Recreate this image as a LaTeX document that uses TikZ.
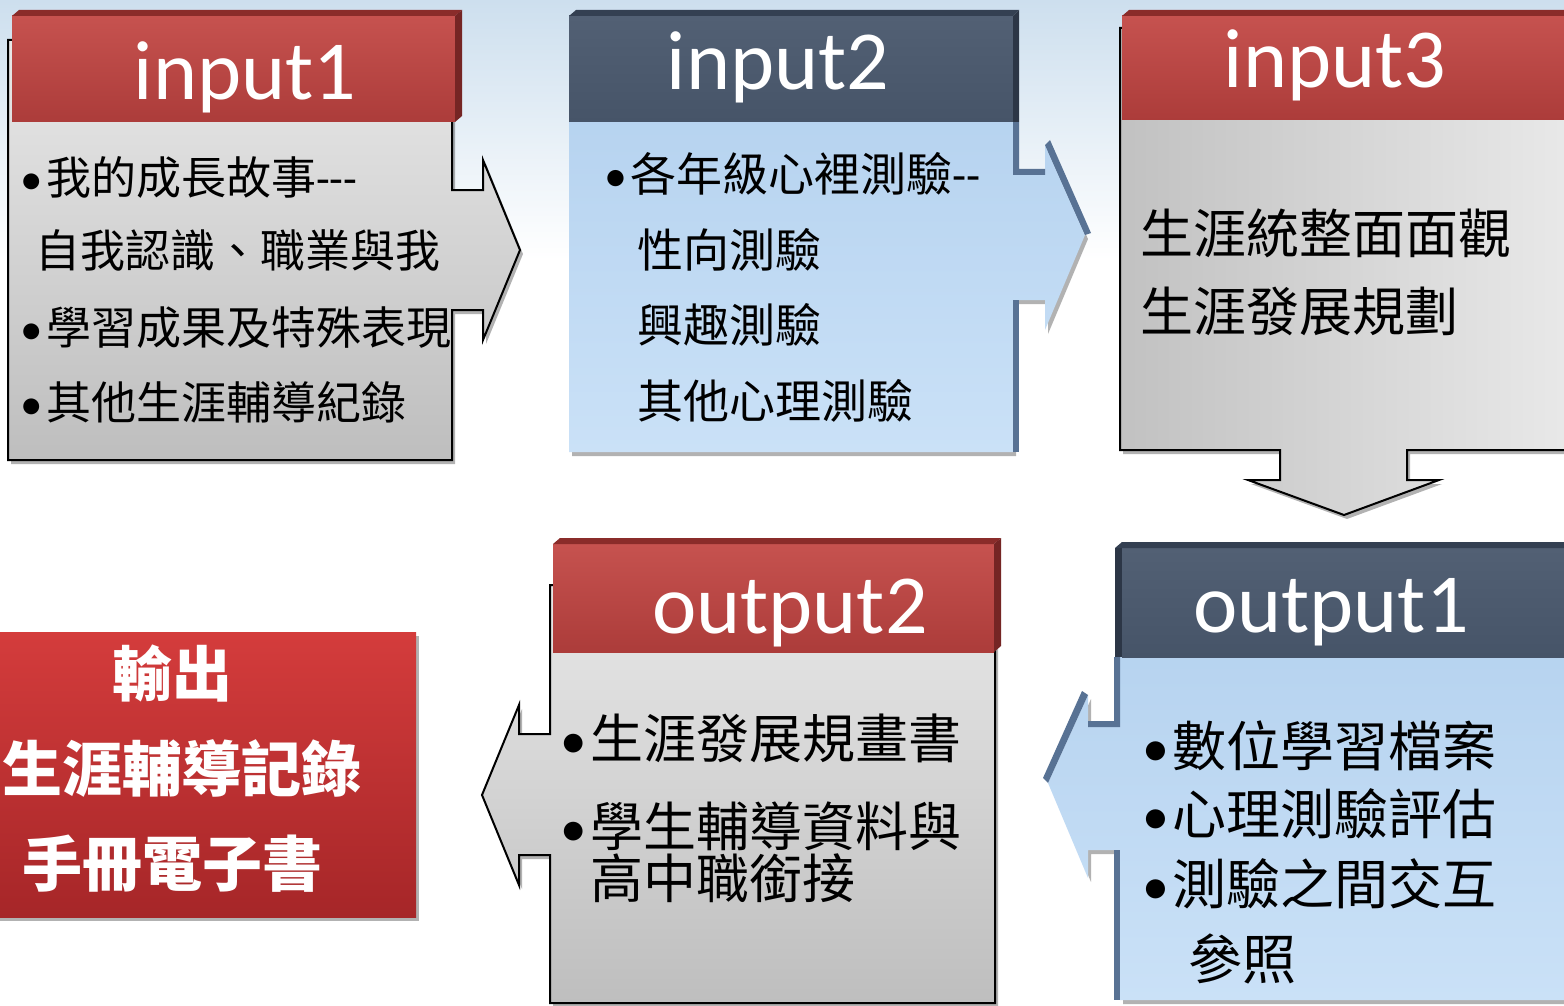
\documentclass[tikz,border=0pt]{standalone}
\usepackage{fontspec}
\setmainfont{Carlito}
\newfontfamily\latin{Carlito}
\newfontfamily\cjk{Noto Sans CJK TC}
\usetikzlibrary{shadows}
\definecolor{redT}{RGB}{198,82,79}
\definecolor{redB}{RGB}{172,60,58}
\definecolor{redBev}{RGB}{138,44,42}
\definecolor{slateT}{RGB}{82,96,116}
\definecolor{slateB}{RGB}{70,84,104}
\definecolor{slateBev}{RGB}{52,64,82}
\definecolor{blueT}{RGB}{178,208,238}
\definecolor{blueB}{RGB}{202,225,247}
\definecolor{blueBev}{RGB}{88,114,148}
\definecolor{grayT}{RGB}{232,232,232}
\definecolor{grayB}{RGB}{190,190,190}
\definecolor{outT}{RGB}{212,60,60}
\definecolor{outB}{RGB}{166,38,40}
\definecolor{sky}{RGB}{205,223,238}
\newcommand\bul{\llap{{\latin •}\hspace{3pt}}}
\tikzset{
  sh/.style={drop shadow={shadow xshift=3pt,shadow yshift=-4pt,opacity=.3,fill=black}},
  hdrred/.style={top color=redT,bottom color=redB},
  hdrslate/.style={top color=slateT,bottom color=slateB},
  graybox/.style={draw=black,line width=2pt,line join=miter,top color=grayT,bottom color=grayB,sh},
  grayboxh/.style={draw=black,line width=2pt,line join=miter,left color=grayB!95,right color=grayT!95!white,sh},
  bluebox/.style={top color=blueT,bottom color=blueB,sh},
  lbl/.style={font=\latin\fontsize{84}{84}\selectfont,text=white,anchor=base,inner sep=0pt},
  txtA/.style={font=\cjk\fontsize{45}{45}\selectfont,anchor=base west,inner sep=0pt},
  txtB/.style={font=\cjk\fontsize{46}{46}\selectfont,anchor=base west,inner sep=0pt},
  txtC/.style={font=\cjk\fontsize{53}{53}\selectfont,anchor=base west,inner sep=0pt},
  txtD/.style={font=\cjk\fontsize{54}{54}\selectfont,anchor=base west,inner sep=0pt},
  outtxt/.style={font=\cjk\bfseries\fontsize{60}{60}\selectfont,text=white,anchor=base,inner sep=0pt},
}
\begin{document}
\begin{tikzpicture}[x=1pt,y=-1pt]
\useasboundingbox (0,0) rectangle (1564,1006);
% background sky
\fill[white] (0,0) rectangle (1564,1006);
\fill[top color=sky,bottom color=white] (0,0) rectangle (1564,260);

% ---------- input1 ----------
\path[graybox] (8,40) -- (8,460) -- (452,460) -- (452,310) -- (483,310) -- (483,340)
  -- (520,250) -- (483,160) -- (483,190) -- (452,190) -- (452,40) -- cycle;
\fill[hdrred] (12,16) rectangle (455,122);
\fill[redBev] (12,16) -- (19,10) -- (462,10) -- (455,16) -- cycle;
\fill[redBev!85!black] (455,16) -- (462,10) -- (462,116) -- (455,122) -- cycle;
\node[lbl] (h1) at (245,100) {input1};
\node[txtA] (t11) at (46,194) {\bul 我的成長故事{\latin -{}-{}-}};
\node[txtA] (t12) at (35,267) {自我認識、職業與我};
\node[txtA] (t13) at (46,344) {\bul 學習成果及特殊表現};
\node[txtA] (t14) at (46,419) {\bul 其他生涯輔導紀錄};

% ---------- input2 ----------
\path[bluebox] (569,40) -- (569,452) -- (1013,452) -- (1013,300) -- (1045,300) -- (1045,330)
  -- (1085,235) -- (1045,145) -- (1045,175) -- (1013,175) -- (1013,40) -- cycle;
\fill[blueBev] (1013,122) -- (1019,122) -- (1019,169) -- (1045,169) -- (1045,175) -- (1013,175) -- cycle;
\fill[blueBev] (1013,300) -- (1019,300) -- (1019,452) -- (1013,452) -- cycle;
\fill[blueBev] (1045,145) -- (1050,140) -- (1091,233) -- (1085,235) -- cycle;
\fill[hdrslate] (569,16) rectangle (1013,122);
\fill[slateBev] (569,16) -- (576,10) -- (1019,10) -- (1013,16) -- cycle;
\fill[slateBev!85!black] (1013,16) -- (1019,10) -- (1019,122) -- (1013,122) -- cycle;
\node[lbl] (h2) at (778,90) {input2};
\node[txtB] (t21) at (630,192) {\bul 各年級心裡測驗{\latin -{}-}};
\node[txtB] (t22) at (637,267) {性向測驗};
\node[txtB] (t23) at (637,342) {興趣測驗};
\node[txtB] (t24) at (637,418) {其他心理測驗};

% ---------- input3 ----------
\path[grayboxh] (1120,28) -- (1120,450) -- (1280,450) -- (1280,480) -- (1248,480) -- (1344,515)
  -- (1439,480) -- (1407,480) -- (1407,450) -- (1575,450) -- (1575,28) -- cycle;
\fill[hdrred] (1122,16) rectangle (1575,120);
\fill[redBev] (1122,16) -- (1129,10) -- (1575,10) -- (1575,16) -- cycle;
\node[lbl] (h3) at (1335,88) {input3};
\node[txtC] (t31) at (1140,253) {生涯統整面面觀};
\node[txtC] (t32) at (1140,331) {生涯發展規劃};

% ---------- output1 ----------
\path[bluebox] (1120,570) -- (1120,727) -- (1088,727) -- (1088,695) -- (1048,783) -- (1088,878)
  -- (1088,850) -- (1120,850) -- (1120,1000) -- (1575,1000) -- (1575,570) -- cycle;
\fill[blueBev] (1114,657) -- (1120,657) -- (1120,727) -- (1088,727) -- (1088,721) -- (1114,721) -- cycle;
\fill[blueBev] (1114,850) -- (1120,850) -- (1120,1000) -- (1114,1000) -- cycle;
\fill[blueBev] (1082,691) -- (1088,695) -- (1048,783) -- (1043,778) -- cycle;
\fill[hdrslate] (1122,548) rectangle (1575,657);
\fill[slateBev] (1115,548) -- (1122,542) -- (1575,542) -- (1575,548) -- cycle;
\fill[slateBev!85!black] (1115,548) -- (1122,548) -- (1122,657) -- (1115,657) -- cycle;
\node[lbl] (h4) at (1331,632) {output1};
\node[txtD] (t41) at (1172,766) {\bul 數位學習檔案};
\node[txtD] (t42) at (1172,834) {\bul 心理測驗評估};
\node[txtD] (t43) at (1172,904) {\bul 測驗之間交互};
\node[txtD] (t44) at (1188,979) {參照};

% ---------- output2 ----------
\path[graybox] (550,585) -- (550,734) -- (519,734) -- (519,705) -- (482,795) -- (519,885)
  -- (519,855) -- (550,855) -- (550,1003) -- (995,1003) -- (995,585) -- cycle;
\fill[hdrred] (553,544) rectangle (994,652);
\fill[redBev] (553,544) -- (560,538) -- (1001,538) -- (994,544) -- cycle;
\fill[redBev!85!black] (994,544) -- (1001,538) -- (1001,646) -- (994,652) -- cycle;
\node[lbl] (h5) at (790,633) {output2};
\node[txtC] (t51) at (590,758) {\bul 生涯發展規畫書};
\node[txtC] (t52) at (590,846) {\bul 學生輔導資料與};
\node[txtC] (t53) at (590,898) {高中職銜接};

% ---------- output box ----------
\path[top color=outT,bottom color=outB,sh] (-5,632) rectangle (416,917);
\node[outtxt] (o1) at (172,696) {輸出};
\node[outtxt] (o2) at (182,791) {生涯輔導記錄};
\node[outtxt] (o3) at (173,886) {手冊電子書};
\end{tikzpicture}
\end{document}
